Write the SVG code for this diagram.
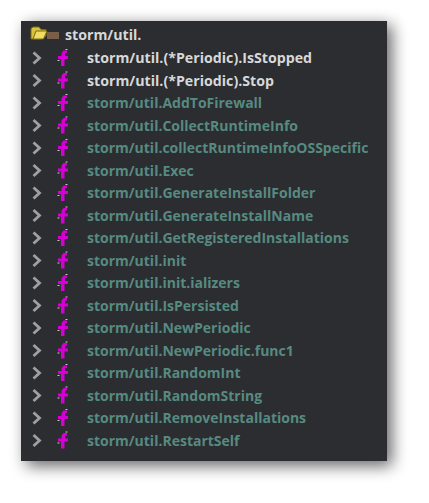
<svg xmlns="http://www.w3.org/2000/svg" width="429" height="503" viewBox="0 0 429 503">
<defs>
<style>
text{font-family:"Open Sans","Noto Sans",sans-serif;font-size:14px;font-weight:700}
.d{fill:#578a81}.w{fill:#d8d8d8;font-size:14.200px}
.c{fill:none;stroke:#a0a0a0;stroke-width:2.800}
.f{fill:#d400d4}
.k{fill:none;stroke:#c8c8c8;stroke-width:1}
</style>
<filter id="s" x="-20%" y="-20%" width="140%" height="140%"><feGaussianBlur stdDeviation="8"/></filter>
<g id="r"><path class="c" d="M33.500 -5.500L39.500 0L33.500 5.500"/><path class="f" d="M61 8V1H58V-2H61.500V-5L63.500 -7.500H67V-5H65V-2H68V1H64.500V8Z"/><path class="k" d="M65.500 -8.500H67.500M57.500 2.500H59.500"/></g>
</defs>
<rect width="429" height="503" fill="#fff"/>
<rect x="26" y="25" width="366" height="441" fill="#000" opacity=".6" filter="url(#s)"/>
<rect id="panel" x="21" y="21" width="366" height="440" fill="#2b2d30"/>
<g id="header">
<path d="M31 39V28.500L33 27H39L41 29.500H46V36L40 39Z" fill="#d8c040" stroke="#7a6a10" stroke-width="1"/>
<path d="M33 39L36 31H47L43.500 39Z" fill="#f0dc60" stroke="#7a6a10" stroke-width="1"/>
<rect x="47" y="32" width="12" height="7" fill="#7a5f48"/>
<text x="65" y="40" class="w">storm/util.</text>
</g>
<g id="n1"><use href="#r" y="58"/><text x="87" y="63" class="w">storm/util.(*Periodic).IsStopped</text></g>
<g id="n2"><use href="#r" y="80.500"/><text x="87" y="85.500" class="w">storm/util.(*Periodic).Stop</text></g>
<g id="n3"><use href="#r" y="103"/><text x="87" y="108" class="d">storm/util.AddToFirewall</text></g>
<g id="n4"><use href="#r" y="125.500"/><text x="87" y="130.500" class="d">storm/util.CollectRuntimeInfo</text></g>
<g id="n5"><use href="#r" y="148"/><text x="87" y="153" class="d">storm/util.collectRuntimeInfoOSSpecific</text></g>
<g id="n6"><use href="#r" y="170.500"/><text x="87" y="175.500" class="d">storm/util.Exec</text></g>
<g id="n7"><use href="#r" y="193"/><text x="87" y="198" class="d">storm/util.GenerateInstallFolder</text></g>
<g id="n8"><use href="#r" y="215.500"/><text x="87" y="220.500" class="d">storm/util.GenerateInstallName</text></g>
<g id="n9"><use href="#r" y="238"/><text x="87" y="243" class="d">storm/util.GetRegisteredInstallations</text></g>
<g id="n10"><use href="#r" y="260.500"/><text x="87" y="265.500" class="d">storm/util.init</text></g>
<g id="n11"><use href="#r" y="283"/><text x="87" y="288" class="d">storm/util.init.ializers</text></g>
<g id="n12"><use href="#r" y="305.500"/><text x="87" y="310.500" class="d">storm/util.IsPersisted</text></g>
<g id="n13"><use href="#r" y="328"/><text x="87" y="333" class="d">storm/util.NewPeriodic</text></g>
<g id="n14"><use href="#r" y="350.500"/><text x="87" y="355.500" class="d">storm/util.NewPeriodic.func1</text></g>
<g id="n15"><use href="#r" y="373"/><text x="87" y="378" class="d">storm/util.RandomInt</text></g>
<g id="n16"><use href="#r" y="395.500"/><text x="87" y="400.500" class="d">storm/util.RandomString</text></g>
<g id="n17"><use href="#r" y="418"/><text x="87" y="423" class="d">storm/util.RemoveInstallations</text></g>
<g id="n18"><use href="#r" y="440.500"/><text x="87" y="445.500" class="d">storm/util.RestartSelf</text></g>
<g id="connectors"/>
</svg>
